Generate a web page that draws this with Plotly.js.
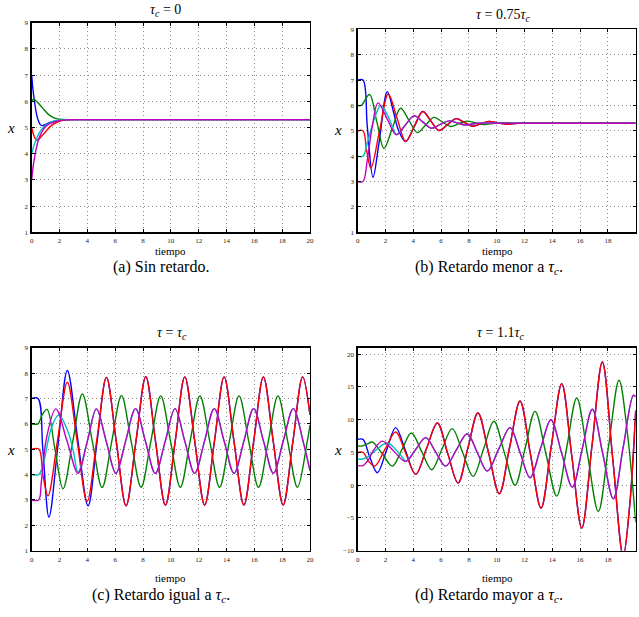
<!DOCTYPE html>
<html><head><meta charset="utf-8">
<script src="https://cdn.plot.ly/plotly-3.0.1.min.js"></script>
<style>html,body{margin:0;padding:0;background:#fff;}#chart{width:639px;height:617px;}</style>
</head><body><div id="chart"></div>
<script>
// ---------- (a) tau_c = 0 ----------
const tA_blue = [0, 0.08, 0.22, 0.35, 0.45, 0.6, 0.75, 1.0, 1.3, 1.7, 2.2, 3, 20];
const xA_blue = [7, 6.5, 5.92, 5.5, 5.3, 5.12, 5.07, 5.12, 5.19, 5.25, 5.29, 5.3, 5.3];
const tA_green = [0, 0.15, 0.4, 0.8, 1.2, 1.6, 2.0, 2.5, 3, 20];
const xA_green = [6.02, 6.08, 5.97, 5.73, 5.5, 5.37, 5.32, 5.3, 5.3, 5.3];
const tA_red = [0, 0.15, 0.33, 0.5, 0.8, 1.1, 1.4, 1.9, 2.5, 3, 20];
const xA_red = [5.0, 4.7, 4.52, 4.55, 4.72, 4.9, 5.07, 5.22, 5.29, 5.3, 5.3];
const tA_cyan = [0, 0.15, 0.33, 0.5, 0.7, 1.0, 1.3, 1.7, 2.2, 3, 20];
const xA_cyan = [4.0, 4.3, 4.55, 4.75, 4.92, 5.08, 5.18, 5.26, 5.29, 5.3, 5.3];
const tA_mag = [0, 0.1, 0.22, 0.35, 0.5, 0.8, 1.1, 1.4, 1.9, 2.5, 3, 20];
const xA_mag = [3.0, 3.5, 3.9, 4.25, 4.55, 4.9, 5.08, 5.17, 5.25, 5.29, 5.3, 5.3];

// ---------- (b) tau = 0.75 tau_c ----------
const tB_red = [0, 0.38, 0.65, 0.95, 1.57, 2.2, 2.83, 3.45, 4.07, 4.68, 5.27, 5.85, 6.47, 7.08, 7.67, 8.27, 8.86, 9.45, 10.07, 10.7, 11.5, 13, 20];
const xB_red = [5, 5, 4.2, 3.53, 4.99, 6.45, 5.5, 4.58, 5.17, 5.76, 5.38, 5.01, 5.25, 5.48, 5.33, 5.18, 5.28, 5.37, 5.31, 5.26, 5.3, 5.3, 5.3];
const tB_blue = [0, 0.38, 0.69, 1.1, 1.53, 2.13, 2.6, 2.95];
const xB_blue = [7, 7, 5.17, 3.17, 4.51, 6.54, 5.69, 5.0];
const tB_green = [0, 0.25, 0.85, 1.37, 1.89, 2.49, 3.09, 3.69, 4.29, 4.89, 5.49, 6.09, 6.69, 7.28, 7.88, 8.5, 9.1, 9.7, 10.3, 12, 20];
const xB_green = [6, 6, 6.43, 5.37, 4.31, 5.1, 5.89, 5.41, 4.93, 5.23, 5.53, 5.35, 5.17, 5.28, 5.38, 5.31, 5.25, 5.29, 5.32, 5.3, 5.3];
const tB_mag = [0, 0.38, 0.69, 1.05, 1.46, 2.12, 2.78, 3.42, 4.05, 4.68, 5.3, 5.93, 6.57, 7.16, 7.75, 8.35, 9, 10, 20];
const xB_mag = [3, 3, 3.85, 5.17, 6.1, 5.47, 4.84, 5.22, 5.59, 5.35, 5.1, 5.25, 5.39, 5.31, 5.23, 5.28, 5.31, 5.3, 5.3];
const tB_cyan = [0, 0.38, 0.69, 1.17, 1.65, 2.13, 2.49, 2.78];
const xB_cyan = [4, 4, 4.51, 5.43, 5.99, 5.63, 5.17, 4.86];

// ---------- (c) tau = tau_c ----------
const tC_red = [0, 0.52, 0.8, 1.17, 1.87, 2.56, 3.27, 3.98, 4.68, 5.37, 6.08, 6.78, 7.49, 8.2, 8.9, 9.61, 10.31, 11.0, 11.72, 12.43, 13.13, 13.83, 14.54, 15.25, 15.95, 16.65, 17.36, 18.07, 18.77, 19.47, 20];
const xC_red = [5, 5, 4.0, 3.16, 5.4, 7.64, 5.3, 2.94, 5.38, 7.83, 5.3, 2.77, 5.3, 7.86, 5.3, 2.8, 5.3, 7.85, 5.3, 2.8, 5.3, 7.85, 5.3, 2.8, 5.3, 7.85, 5.3, 2.8, 5.3, 7.85, 6.35];
const tC_blue = [0, 0.45, 0.8, 1.24, 1.9, 2.56, 3.3, 4.05, 4.7];
const xC_blue = [7, 7, 5.0, 2.32, 5.21, 8.1, 5.43, 2.77, 5.3];
const tC_green = [0, 0.45, 0.75, 1.1, 1.67, 2.25, 2.95, 3.64, 4.35, 5.06, 5.75, 6.45, 7.15, 7.86, 8.56, 9.27, 9.98, 10.68, 11.38, 12.09, 12.8, 13.5, 14.2, 14.9, 15.6, 16.3, 17.0, 17.7, 18.4, 19.1, 19.8, 20];
const xC_green = [6, 6, 6.35, 6.57, 5.0, 3.44, 5.3, 7.18, 5.33, 3.49, 5.3, 7.11, 5.3, 3.5, 5.3, 7.1, 5.3, 3.5, 5.3, 7.1, 5.3, 3.5, 5.3, 7.1, 5.3, 3.5, 5.3, 7.1, 5.3, 3.5, 5.3, 5.95];
const tC_mag = [0, 0.5, 0.69, 1.05, 1.73, 2.55, 3.33, 4.0, 4.65, 5.35, 6.05, 6.75, 7.46, 8.17, 8.88, 9.6, 10.3, 11.0, 11.71, 12.42, 13.12, 13.83, 14.54, 15.25, 15.95, 16.66, 17.37, 18.08, 18.8, 19.5, 20];
const xC_mag = [3, 3, 3.7, 5.4, 6.59, 5.3, 4.05, 5.32, 6.59, 5.32, 4.05, 5.32, 6.6, 5.32, 4.05, 5.32, 6.6, 5.32, 4.05, 5.32, 6.6, 5.32, 4.05, 5.32, 6.6, 5.32, 4.05, 5.32, 6.6, 5.32, 4.15];
const tC_cyan = [0, 0.5, 0.81, 1.41, 1.94, 2.61, 3.0, 3.33];
const xC_cyan = [4, 4, 4.38, 5.83, 6.35, 5.69, 4.9, 4.1];

// ---------- (d) tau = 1.1 tau_c ----------
const tD_red = [0, 0.38, 0.8, 1.22, 1.97, 2.73, 3.45, 4.17, 4.95, 5.73, 6.47, 7.22, 7.93, 8.65, 9.42, 10.19, 10.93, 11.68, 12.43, 13.19, 13.93, 14.68, 15.4, 16.12, 16.86, 17.6, 18.35, 19.1, 19.55, 20];
const xD_red = [5, 5, 3.6, 2.92, 5.5, 8.12, 4.9, 1.65, 5.6, 9.5, 4.9, 0.33, 5.7, 11.03, 4.9, -1.3, 5.8, 12.86, 4.7, -3.5, 6.0, 15.52, 4.5, -6.55, 6.1, 18.82, 4.0, -10.8, -3.5, 11.4];
const tD_blue = [0, 0.38, 0.85, 1.41, 2.07, 2.73, 3.45, 4.17];
const xD_blue = [7, 7, 4.4, 1.91, 5.3, 8.79, 5.2, 1.65];
const tD_green = [0, 0.35, 0.7, 1.05, 1.77, 2.49, 3.17, 3.86, 4.59, 5.32, 6.06, 6.8, 7.55, 8.3, 9.05, 9.8, 10.56, 11.32, 12.04, 12.76, 13.54, 14.32, 15.04, 15.76, 16.53, 17.31, 18.05, 18.8, 19.4, 20];
const xD_green = [6, 6, 6.3, 6.6, 4.8, 2.92, 5.4, 7.97, 5.2, 2.37, 5.5, 8.64, 5.0, 1.35, 5.5, 9.76, 4.9, 0.0, 5.6, 11.28, 4.8, -1.66, 5.8, 13.32, 4.7, -4.0, 6.0, 16.03, 8.0, -5.7];
const tD_mag = [0, 0.38, 0.75, 1.1, 1.77, 2.6, 3.45, 4.17, 4.89, 5.6, 6.33, 7.1, 7.88, 8.6, 9.32, 10.14, 10.96, 11.68, 12.4, 13.15, 13.9, 14.67, 15.44, 16.16, 16.88, 17.63, 18.39, 19.1, 19.83, 20];
const xD_mag = [3, 3, 3.8, 5.2, 6.74, 5.2, 3.64, 5.45, 7.26, 5.1, 2.92, 5.4, 7.87, 5.0, 2.16, 5.5, 8.79, 5.0, 1.15, 5.6, 10.0, 4.9, -0.29, 5.6, 11.59, 4.8, -2.07, 5.8, 13.73, 13.5];
const tD_cyan = [0, 0.38, 0.9, 1.5, 2.13, 2.8, 3.3, 3.45];
const xD_cyan = [4, 4, 4.6, 5.7, 6.44, 5.3, 4.0, 3.64];

// labels
const panelTitles = ['<i>τ</i><sub><i>c</i></sub> = 0', '<i>τ</i> = 0.75<i>τ</i><sub><i>c</i></sub>', '<i>τ</i> = <i>τ</i><sub><i>c</i></sub>', '<i>τ</i> = 1.1<i>τ</i><sub><i>c</i></sub>'];
const captions = ['(a) Sin retardo.', '(b) Retardo menor a <i>τ</i><sub><i>c</i></sub>.', '(c) Retardo igual a <i>τ</i><sub><i>c</i></sub>.', '(d) Retardo mayor a <i>τ</i><sub><i>c</i></sub>.'];
const xLabel = 'tiempo';
const yLabel = '<i>x</i>';

// ---------- build ----------
const W = 639, H = 617;
const PX = v => v / W, PY = v => 1 - v / H;
const COL = {b:'#0000ff', g:'#008000', r:'#ff0000', c:'#00bfbf', m:'#bf00bf'};

function joinAfter(t1, x1, t2, x2){
  const last = t1[t1.length-1];
  const t = t1.slice(), x = x1.slice();
  for (let i=0;i<t2.length;i++){ if (t2[i] > last + 0.3){ t.push(t2[i]); x.push(x2[i]); } }
  return [t, x];
}
function tr(t, x, c, ax){
  return {x:t, y:x, type:'scatter', mode:'lines', xaxis:'x'+ax, yaxis:'y'+ax,
          line:{color:c, width:1.4, shape:'spline', smoothing:1}, hoverinfo:'skip', showlegend:false};
}
const traces = [];
function panel(ax, blue, green, red, cyan, mag){
  traces.push(tr(blue[0], blue[1], COL.b, ax));
  traces.push(tr(green[0], green[1], COL.g, ax));
  traces.push(tr(red[0], red[1], COL.r, ax));
  traces.push(tr(cyan[0], cyan[1], COL.c, ax));
  traces.push(tr(mag[0], mag[1], COL.m, ax));
}
panel('', [tA_blue, xA_blue], [tA_green, xA_green], [tA_red, xA_red], [tA_cyan, xA_cyan], [tA_mag, xA_mag]);
panel('2', joinAfter(tB_blue, xB_blue, tB_red, xB_red), [tB_green, xB_green], [tB_red, xB_red], joinAfter(tB_cyan, xB_cyan, tB_mag, xB_mag), [tB_mag, xB_mag]);
panel('3', joinAfter(tC_blue, xC_blue, tC_red, xC_red), [tC_green, xC_green], [tC_red, xC_red], joinAfter(tC_cyan, xC_cyan, tC_mag, xC_mag), [tC_mag, xC_mag]);
panel('4', joinAfter(tD_blue, xD_blue, tD_red, xD_red), [tD_green, xD_green], [tD_red, xD_red], joinAfter(tD_cyan, xD_cyan, tD_mag, xD_mag), [tD_mag, xD_mag]);

const serif = 'Liberation Serif';
const tickFont = {family:serif, size:7, color:'#222'};
function axisBase(extra){
  return Object.assign({showline:true, linecolor:'#000', linewidth:1.4, mirror:'ticks', ticks:'inside', ticklen:3,
    tickcolor:'#000', tickwidth:1, showgrid:true, gridcolor:'#8a8a8a', griddash:'1px,3px', gridwidth:1,
    zeroline:false, tickfont:tickFont, fixedrange:true, ticklabelstandoff:1}, extra);
}
const L1 = 31.7, R1 = 310, L2 = 357.7, R2 = 635.7;
const layout = {
  width:W, height:H, margin:{l:0,r:0,t:0,b:0}, paper_bgcolor:'#fff', plot_bgcolor:'#fff', showlegend:false,
  font:{family:serif},
  xaxis:  axisBase({domain:[PX(L1),PX(R1)], range:[0,20], dtick:2, anchor:'y'}),
  yaxis:  axisBase({domain:[PY(232.3),PY(22.7)], range:[1,9], dtick:1, anchor:'x'}),
  xaxis2: axisBase({domain:[PX(L2),PX(R2)], range:[0,20], dtick:2, anchor:'y2'}),
  yaxis2: axisBase({domain:[PY(232.3),PY(29.3)], range:[1,9], dtick:1, anchor:'x2'}),
  xaxis3: axisBase({domain:[PX(L1),PX(R1)], range:[0,20], dtick:2, anchor:'y3'}),
  yaxis3: axisBase({domain:[PY(550.7),PY(347.7)], range:[1,9], dtick:1, anchor:'x3'}),
  xaxis4: axisBase({domain:[PX(L2),PX(R2)], range:[0,20], dtick:2, anchor:'y4'}),
  yaxis4: axisBase({domain:[PY(550.7),PY(347.7)], range:[-10,21], tickvals:[-10,-5,0,5,10,15,20], anchor:'x4'}),
  annotations: []
};
function ann(text, x, y, size){
  layout.annotations.push({text:text, xref:'paper', yref:'paper', x:PX(x), y:PY(y), xanchor:'center', yanchor:'middle',
    showarrow:false, font:{family:serif, size:size, color:'#000'}});
}
ann(panelTitles[0], 166, 11, 14);
ann(panelTitles[1], 503, 15, 14);
ann(panelTitles[2], 172, 333, 14);
ann(panelTitles[3], 500, 333, 14);
ann(xLabel, 171, 251, 11);
ann(xLabel, 497, 251, 11);
ann(xLabel, 171, 578, 11);
ann(xLabel, 497, 578, 11);
ann(yLabel, 11, 128, 15);
ann(yLabel, 338, 130, 15);
ann(yLabel, 11, 450, 15);
ann(yLabel, 338, 450, 15);
ann(captions[0], 161, 267, 16);
ann(captions[1], 489, 267, 16);
ann(captions[2], 161, 595, 16);
ann(captions[3], 489, 595, 16);

Plotly.newPlot('chart', traces, layout, {staticPlot:true, displayModeBar:false});
</script></body></html>
